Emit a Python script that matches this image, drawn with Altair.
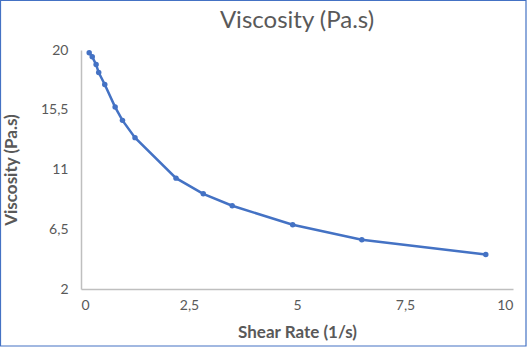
import altair as alt
import pandas as pd

shear_rate = [0.19, 0.26, 0.35, 0.41, 0.55, 0.79, 0.96, 1.25, 2.2, 2.83, 3.5, 4.9, 6.5, 9.37]
viscosity = [19.8, 19.5, 18.9, 18.3, 17.4, 15.7, 14.7, 13.4, 10.35, 9.17, 8.27, 6.84, 5.71, 4.59]
x_ticks = [0, 2.5, 5, 7.5, 10]
y_ticks = [2, 6.5, 11, 15.5, 20]

df = pd.DataFrame({"x": shear_rate, "y": viscosity})

W, H = 432, 239
BLUE = "#4472C4"
GRAY = "#595959"
FONT = "Lato"

lab = "replace(toString(datum.value), '.', ',')"

x_enc = alt.X("x:Q", scale=alt.Scale(domain=[0, 10], nice=False),
              axis=alt.Axis(values=x_ticks, labelExpr=lab, title="Shear Rate (1/s)",
                            grid=False, ticks=False, domainColor="#BFBFBF", domainWidth=1.5,
                            labelPadding=9, titlePadding=12))
y_enc = alt.Y("y:Q", scale=alt.Scale(domain=[2, 20], nice=False, zero=False),
              axis=alt.Axis(values=y_ticks, labelExpr=lab, title="Viscosity (Pa.s)",
                            grid=False, ticks=False, domainColor="#BFBFBF", domainWidth=1.5,
                            labelPadding=13, titlePadding=20))

line = alt.Chart(df).mark_line(color=BLUE, strokeWidth=2.5).encode(x=x_enc, y=y_enc)
pts = alt.Chart(df).mark_point(color=BLUE, filled=True, size=30, opacity=1).encode(x="x:Q", y="y:Q")

border = alt.Chart(pd.DataFrame({"a": [0]})).mark_rect(
    fill=None, stroke=BLUE, strokeWidth=1.2, clip=False
).encode(x=alt.value(-80.5), x2=alt.value(W + 13), y=alt.value(-49.5), y2=alt.value(H + 57))

chart = alt.layer(line, pts, border).properties(
    width=W, height=H,
    title=alt.TitleParams("Viscosity (Pa.s)", fontSize=24, color=GRAY, font=FONT,
                          fontWeight="normal", anchor="middle", frame="group",
                          offset=0, dy=57, baseline="bottom"),
    autosize=alt.AutoSizeParams(type="none"),
    padding={"left": 81, "top": 50, "right": 14, "bottom": 58},
).configure_view(stroke=None).configure_axis(
    labelFont=FONT, titleFont=FONT, labelFontSize=14, titleFontSize=17,
    labelColor=GRAY, titleColor=GRAY, titleFontWeight="bold"
)

chart.save("out.html", embed_options={"renderer": "svg", "actions": False})
